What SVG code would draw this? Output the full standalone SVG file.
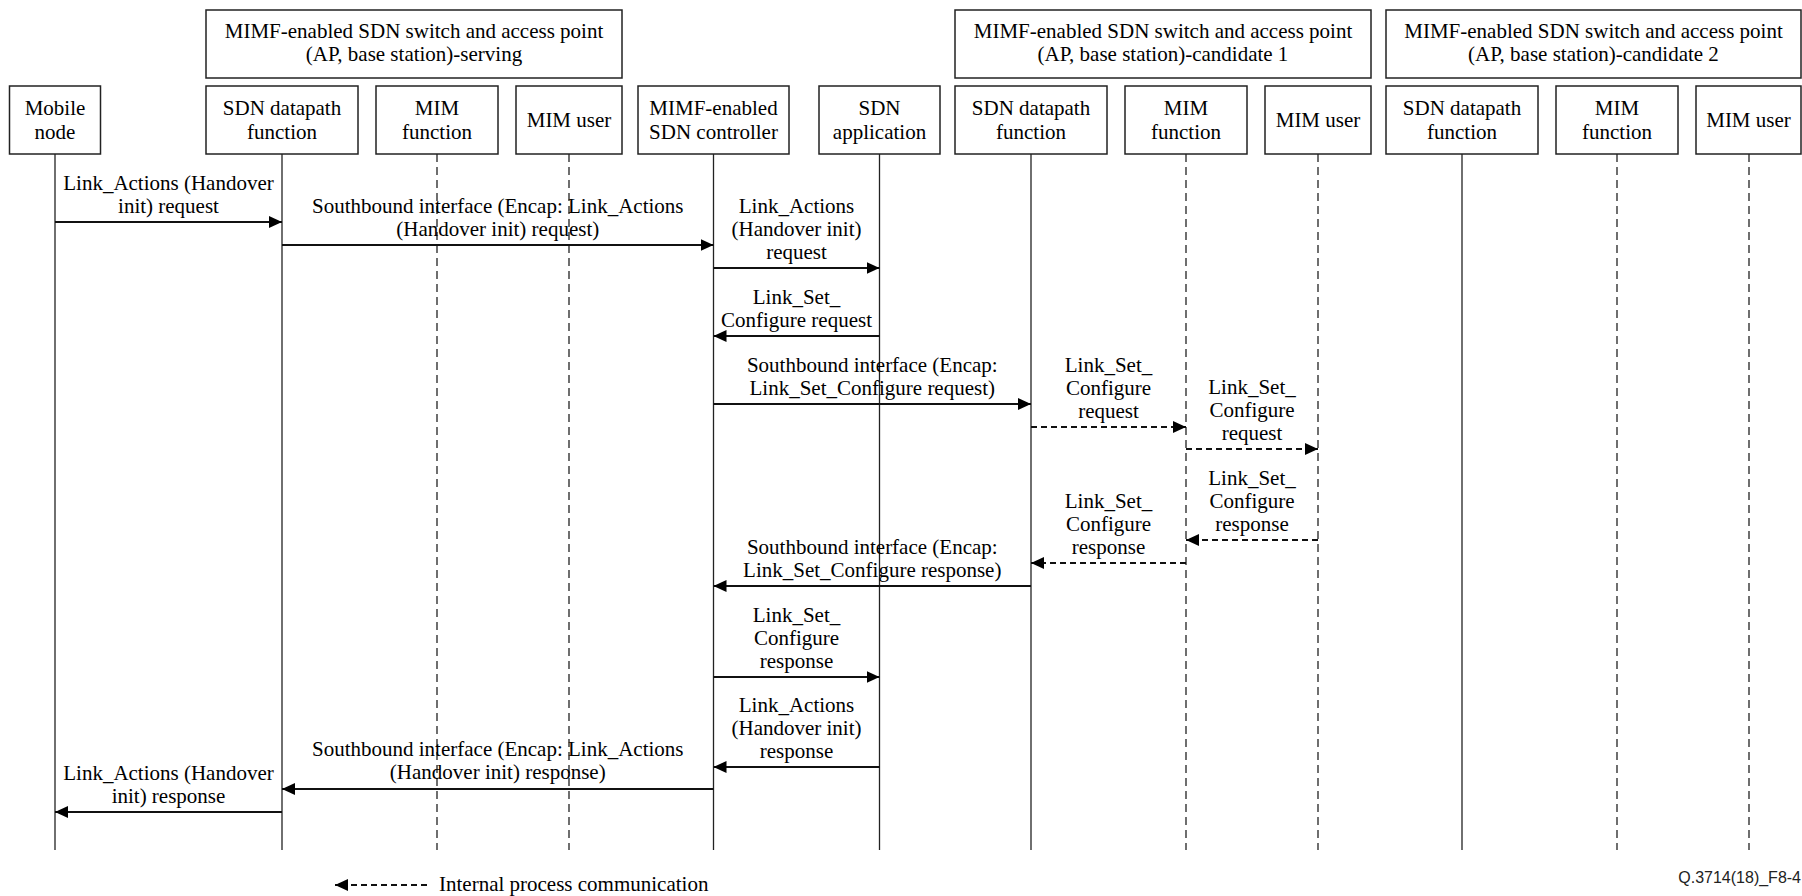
<svg xmlns="http://www.w3.org/2000/svg" width="1802" height="896" viewBox="0 0 1802 896">
<style>
.box{fill:#fff;stroke:#222;stroke-width:1.5}
.t{font-family:"Liberation Serif","Times New Roman",serif;font-size:21px;fill:#000;text-anchor:middle}
.life{stroke:#222;stroke-width:1.3;fill:none}
.dl{stroke-dasharray:8 5}
.msg{stroke:#111;stroke-width:2;fill:none;marker-end:url(#ah)}
.dm{stroke-dasharray:6 4}
.foot{font-family:"Liberation Sans",Arial,sans-serif;font-size:16px;fill:#222;text-anchor:end}
</style>
<defs>
<marker id="ah" markerUnits="userSpaceOnUse" markerWidth="13" markerHeight="12" refX="13" refY="6" orient="auto">
<path d="M0,0 L13,6 L0,12 z" fill="#000"/>
</marker>
</defs>
<rect width="1802" height="896" fill="#fff"/>

<g id="group-serving">
<rect class="box" x="206" y="10" width="416" height="68"/>
<text class="t" x="414" y="38">MIMF-enabled SDN switch and access point</text>
<text class="t" x="414" y="61">(AP, base station)-serving</text>
</g>
<g id="group-candidate1">
<rect class="box" x="955" y="10" width="416" height="68"/>
<text class="t" x="1163" y="38">MIMF-enabled SDN switch and access point</text>
<text class="t" x="1163" y="61">(AP, base station)-candidate 1</text>
</g>
<g id="group-candidate2">
<rect class="box" x="1386" y="10" width="415" height="68"/>
<text class="t" x="1593.5" y="38">MIMF-enabled SDN switch and access point</text>
<text class="t" x="1593.5" y="61">(AP, base station)-candidate 2</text>
</g>

<g id="mobile-node">
<rect class="box" x="9.5" y="86" width="91" height="68"/>
<text class="t" x="55" y="115">Mobile</text>
<text class="t" x="55" y="139">node</text>
<line class="life" x1="55" y1="154" x2="55" y2="850"/>
</g>
<g id="sdn-datapath-serving">
<rect class="box" x="206" y="86" width="152" height="68"/>
<text class="t" x="282" y="115">SDN datapath</text>
<text class="t" x="282" y="139">function</text>
<line class="life" x1="282" y1="154" x2="282" y2="850"/>
</g>
<g id="mim-function-serving">
<rect class="box" x="376" y="86" width="122" height="68"/>
<text class="t" x="437" y="115">MIM</text>
<text class="t" x="437" y="139">function</text>
<line class="life dl" x1="437" y1="154" x2="437" y2="850"/>
</g>
<g id="mim-user-serving">
<rect class="box" x="516" y="86" width="106" height="68"/>
<text class="t" x="569" y="127">MIM user</text>
<line class="life dl" x1="569" y1="154" x2="569" y2="850"/>
</g>
<g id="sdn-controller">
<rect class="box" x="638" y="86" width="151" height="68"/>
<text class="t" x="713.5" y="115">MIMF-enabled</text>
<text class="t" x="713.5" y="139">SDN controller</text>
<line class="life" x1="713.5" y1="154" x2="713.5" y2="850"/>
</g>
<g id="sdn-application">
<rect class="box" x="819" y="86" width="121" height="68"/>
<text class="t" x="879.5" y="115">SDN</text>
<text class="t" x="879.5" y="139">application</text>
<line class="life" x1="879.5" y1="154" x2="879.5" y2="850"/>
</g>
<g id="sdn-datapath-c1">
<rect class="box" x="955" y="86" width="152" height="68"/>
<text class="t" x="1031" y="115">SDN datapath</text>
<text class="t" x="1031" y="139">function</text>
<line class="life" x1="1031" y1="154" x2="1031" y2="850"/>
</g>
<g id="mim-function-c1">
<rect class="box" x="1125" y="86" width="122" height="68"/>
<text class="t" x="1186" y="115">MIM</text>
<text class="t" x="1186" y="139">function</text>
<line class="life dl" x1="1186" y1="154" x2="1186" y2="850"/>
</g>
<g id="mim-user-c1">
<rect class="box" x="1265" y="86" width="106" height="68"/>
<text class="t" x="1318" y="127">MIM user</text>
<line class="life dl" x1="1318" y1="154" x2="1318" y2="850"/>
</g>
<g id="sdn-datapath-c2">
<rect class="box" x="1386" y="86" width="152" height="68"/>
<text class="t" x="1462" y="115">SDN datapath</text>
<text class="t" x="1462" y="139">function</text>
<line class="life" x1="1462" y1="154" x2="1462" y2="850"/>
</g>
<g id="mim-function-c2">
<rect class="box" x="1556" y="86" width="122" height="68"/>
<text class="t" x="1617" y="115">MIM</text>
<text class="t" x="1617" y="139">function</text>
<line class="life dl" x1="1617" y1="154" x2="1617" y2="850"/>
</g>
<g id="mim-user-c2">
<rect class="box" x="1696" y="86" width="105" height="68"/>
<text class="t" x="1748.5" y="127">MIM user</text>
<line class="life dl" x1="1749" y1="154" x2="1749" y2="850"/>
</g>

<g id="connectors">
<line class="msg" x1="55" y1="222" x2="282" y2="222"/>
<text class="t" x="168.5" y="190">Link_Actions (Handover</text>
<text class="t" x="168.5" y="213">init) request</text>

<line class="msg" x1="282" y1="245" x2="713.5" y2="245"/>
<text class="t" x="497.75" y="213">Southbound interface (Encap: Link_Actions</text>
<text class="t" x="497.75" y="236">(Handover init) request)</text>

<line class="msg" x1="713.5" y1="268" x2="879.5" y2="268"/>
<text class="t" x="796.5" y="213">Link_Actions</text>
<text class="t" x="796.5" y="236">(Handover init)</text>
<text class="t" x="796.5" y="259">request</text>

<line class="msg" x1="879.5" y1="336" x2="713.5" y2="336"/>
<text class="t" x="796.5" y="304">Link_Set_</text>
<text class="t" x="796.5" y="327">Configure request</text>

<line class="msg" x1="713.5" y1="404" x2="1031" y2="404"/>
<text class="t" x="872.25" y="372">Southbound interface (Encap:</text>
<text class="t" x="872.25" y="395">Link_Set_Configure request)</text>

<line class="msg dm" x1="1031" y1="427" x2="1186" y2="427"/>
<text class="t" x="1108.5" y="372">Link_Set_</text>
<text class="t" x="1108.5" y="395">Configure</text>
<text class="t" x="1108.5" y="418">request</text>

<line class="msg dm" x1="1186" y1="449" x2="1318" y2="449"/>
<text class="t" x="1252" y="394">Link_Set_</text>
<text class="t" x="1252" y="417">Configure</text>
<text class="t" x="1252" y="440">request</text>

<line class="msg dm" x1="1318" y1="540" x2="1186" y2="540"/>
<text class="t" x="1252" y="485">Link_Set_</text>
<text class="t" x="1252" y="508">Configure</text>
<text class="t" x="1252" y="531">response</text>

<line class="msg dm" x1="1186" y1="563" x2="1031" y2="563"/>
<text class="t" x="1108.5" y="508">Link_Set_</text>
<text class="t" x="1108.5" y="531">Configure</text>
<text class="t" x="1108.5" y="554">response</text>

<line class="msg" x1="1031" y1="586" x2="713.5" y2="586"/>
<text class="t" x="872.25" y="554">Southbound interface (Encap:</text>
<text class="t" x="872.25" y="577">Link_Set_Configure response)</text>

<line class="msg" x1="713.5" y1="677" x2="879.5" y2="677"/>
<text class="t" x="796.5" y="622">Link_Set_</text>
<text class="t" x="796.5" y="645">Configure</text>
<text class="t" x="796.5" y="668">response</text>

<line class="msg" x1="879.5" y1="767" x2="713.5" y2="767"/>
<text class="t" x="796.5" y="712">Link_Actions</text>
<text class="t" x="796.5" y="735">(Handover init)</text>
<text class="t" x="796.5" y="758">response</text>

<line class="msg" x1="713.5" y1="789" x2="282" y2="789"/>
<text class="t" x="497.75" y="756">Southbound interface (Encap: Link_Actions</text>
<text class="t" x="497.75" y="779">(Handover init) response)</text>

<line class="msg" x1="282" y1="812" x2="55" y2="812"/>
<text class="t" x="168.5" y="780">Link_Actions (Handover</text>
<text class="t" x="168.5" y="803">init) response</text>
</g>

<g id="legend">
<line class="msg dm" x1="427" y1="885" x2="335" y2="885"/>
<text class="t" x="439" y="891" style="text-anchor:start">Internal process communication</text>
</g>
<text class="foot" x="1801" y="883">Q.3714(18)_F8-4</text>
</svg>
